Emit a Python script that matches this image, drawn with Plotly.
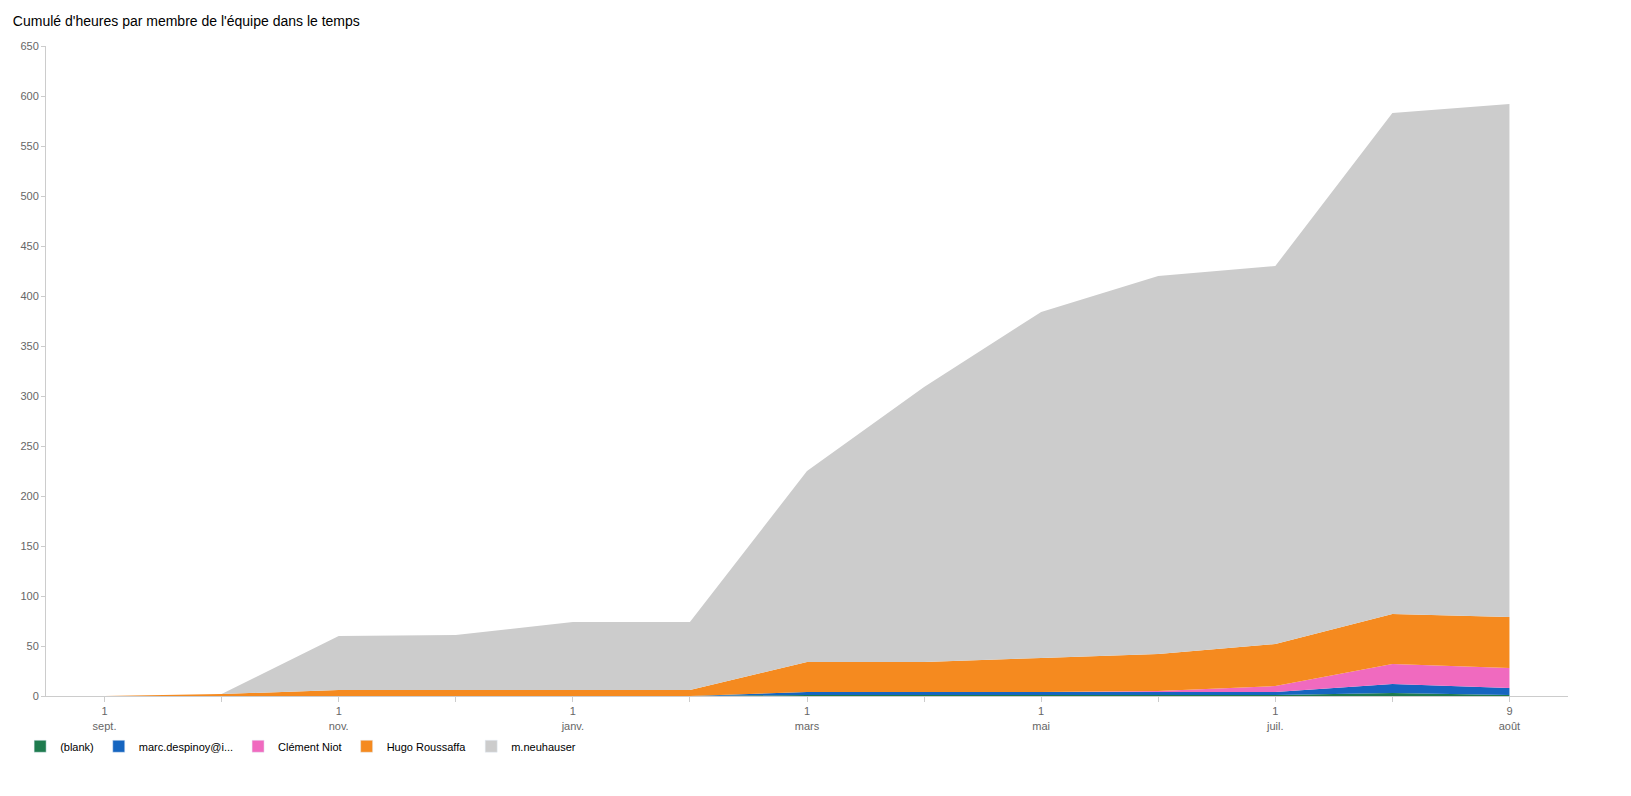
import plotly.graph_objects as go

dates = ["1<br>sept.", "", "1<br>nov.", "", "1<br>janv.", "", "1<br>mars", "", "1<br>mai", "", "1<br>juil.", "", "9<br>août"]
blank = [0, 0, 0, 0, 0, 0, 1, 1, 1, 1, 1, 3, 1]
marc = [0, 0, 0, 0, 0, 0, 3, 3, 3, 3, 3, 9, 7]
clement = [0, 0, 0, 0, 0, 0, 0, 0, 0, 1, 6, 20, 20]
hugo = [0, 2, 6, 6, 6, 6, 30, 30, 34, 37, 42, 50, 51]
neuhauser = [0, 0, 54, 55, 68, 68, 191, 275, 346, 378, 378, 501, 513]

series = [
    ("(blank)", blank, "#1e7b4e"),
    ("marc.despinoy@i...", marc, "#1565c0"),
    ("Clément Niot", clement, "#f06abf"),
    ("Hugo Roussaffa", hugo, "#f58a1f"),
    ("m.neuhauser", neuhauser, "#cccccc"),
]

x = list(range(len(dates)))
fig = go.Figure()
for name, vals, color in series:
    fig.add_trace(go.Scatter(
        x=x, y=vals, name=name, stackgroup="one", mode="lines",
        line=dict(width=0, color=color), fillcolor=color, showlegend=False,
    ))
# square legend swatches
for name, vals, color in series:
    fig.add_trace(go.Bar(x=[None], y=[None], name=name, marker_color=color))

# page has 8px body margin, so size the figure to fit inside the window
fig.update_layout(
    width=1615, height=780,
    margin=dict(l=30, r=55, t=38, b=92),
    paper_bgcolor="white", plot_bgcolor="white",
    font=dict(family="Liberation Sans, Arial", size=11, color="#666"),
    title=dict(text="Cumulé d'heures par membre de l'équipe dans le temps",
               x=0.003, y=0.99, yanchor="top", font=dict(size=14, color="black")),
    legend=dict(orientation="h", x=-0.017, y=-0.055, yanchor="top", traceorder="normal",
                font=dict(size=11, color="black"), itemwidth=30),
    showlegend=True,
)
fig.update_xaxes(range=[-0.5, 12.5], tickvals=x, ticktext=dates, showgrid=False,
                 showline=True, linecolor="#ccc", ticks="outside", tickcolor="#ccc",
                 ticklen=5, zeroline=False)
fig.update_yaxes(range=[0, 650], dtick=50, showgrid=False, showline=True,
                 linecolor="#ccc", ticks="outside", tickcolor="#ccc", ticklen=4,
                 zeroline=False)

fig.write_html("out.html")
